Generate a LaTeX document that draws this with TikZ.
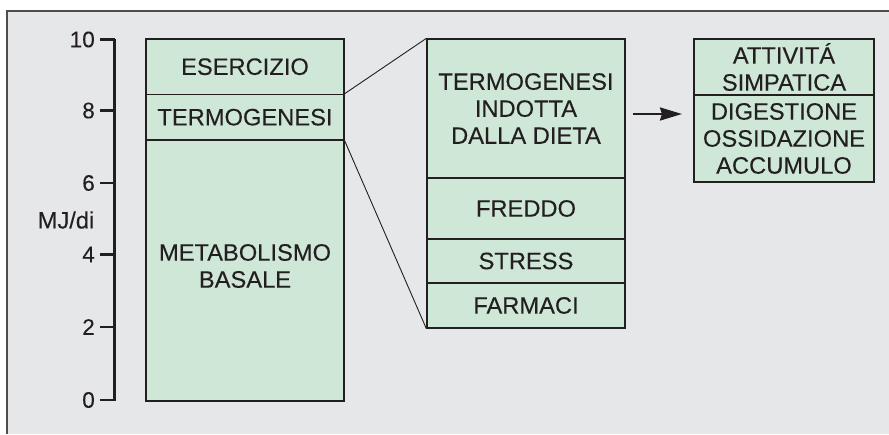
\documentclass[tikz,border=0pt]{standalone}
\usepackage{fontspec}
\setmainfont[FakeBold=0.2]{Liberation Sans}
\usetikzlibrary{arrows.meta}
\definecolor{bggray}{HTML}{E6E7E8}
\definecolor{boxgreen}{HTML}{CEE7D6}
\definecolor{ink}{HTML}{231F20}
\begin{document}
\begin{tikzpicture}[x=1pt,y=-1pt,
  sec/.style={draw=ink, line width=1.3pt, fill=boxgreen, rectangle, inner sep=0pt,
    align=center, text=ink, font=\fontsize{23.7}{27}\selectfont},
  ticklab/.style={anchor=east, text=ink, inner sep=0pt, font=\fontsize{22.5}{27}\selectfont},
  link/.style={draw=ink, line width=0.9pt},
  axis/.style={draw=ink, line width=2.7pt},
  tick/.style={draw=ink, line width=2.3pt}]
\useasboundingbox (0,0) rectangle (889,434);
\fill[white] (0,0) rectangle (889,434);
\fill[bggray] (7,11) rectangle (889,434);
\draw[draw=ink!80, line width=1.2pt] (7,434) -- (7,11) -- (889,11);
% axis
\coordinate (ytop) at (114.5,39);
\coordinate (ybot) at (114.5,401);
\draw[axis] (ytop) -- (ybot);
\foreach \v/\yy in {10/39.5, 8/110.5, 6/183, 4/254.5, 2/327, 0/400}{
  \draw[tick] (100,\yy) -- (115,\yy);
  \node[ticklab] (t\v) at (95,\yy) {\v};
}
\node[ticklab, anchor=center, font=\fontsize{23.7}{27}\selectfont] (unit) at (66,220) {MJ/di};
% box 1
\node[sec, minimum width=198, minimum height=55.3] (eser) at (245,66.7) {ESERCIZIO};
\node[sec, minimum width=198, minimum height=45.7] (termo) at (245,117.2) {TERMOGENESI};
\node[sec, minimum width=198, minimum height=261] (basal) at (245,270.5) {};
\node[text=ink, align=center, font=\fontsize{23.7}{27}\selectfont] (basaltxt) at (245,266) {METABOLISMO\\BASALE};
% box 2
\node[sec, minimum width=198, minimum height=139] (tid) at (526,108.5) {TERMOGENESI\\INDOTTA\\DALLA DIETA};
\node[sec, minimum width=198, minimum height=61] (fred) at (526,208.5) {FREDDO};
\node[sec, minimum width=198, minimum height=44] (stress) at (526,261) {STRESS};
\node[sec, minimum width=198, minimum height=45] (farm) at (526,305.5) {FARMACI};
% box 3
\node[sec, minimum width=180, minimum height=56] (simp) at (784,67) {ATTIVITÁ\\SIMPATICA};
\node[sec, minimum width=180, minimum height=87] (dig) at (784,138.5) {DIGESTIONE\\OSSIDAZIONE\\ACCUMULO};
% connectors
\draw[link] (termo.north east) -- (tid.north west);
\draw[link] (termo.south east) -- (farm.south west);
\coordinate (arS) at (633,114);
\coordinate (arE) at (682,114);
\draw[draw=ink, line width=2.3pt, -{Stealth[length=22pt,width=13pt,inset=2pt]}] (arS) -- (arE);
\end{tikzpicture}
\end{document}
